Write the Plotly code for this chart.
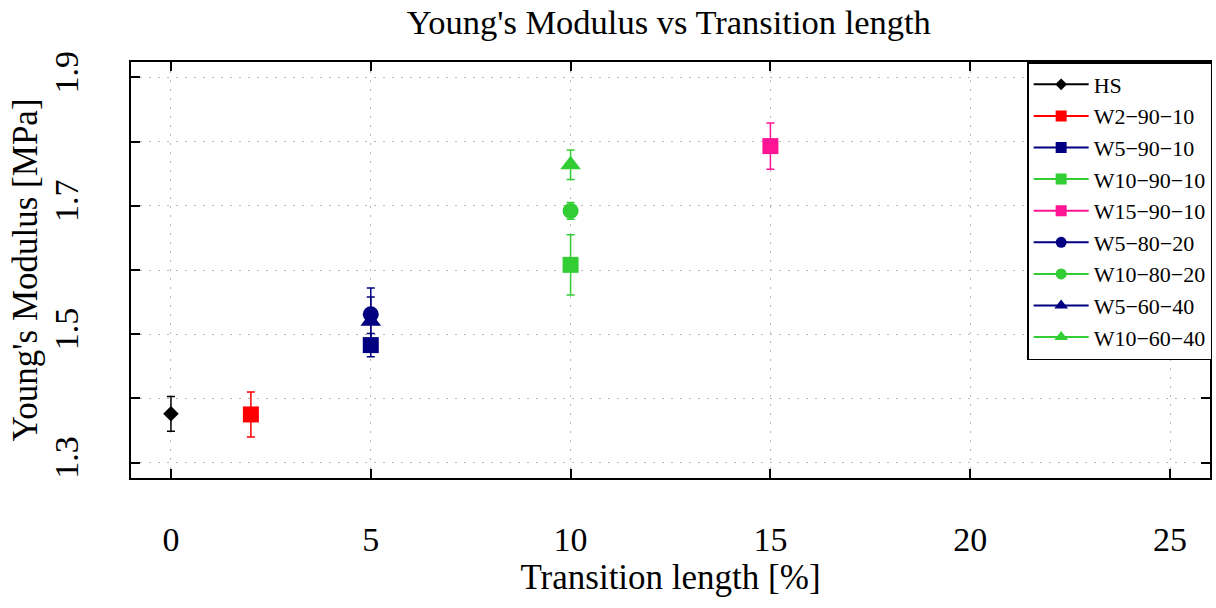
import plotly.graph_objects as go

# ---- data ----
names = ["HS", "W2−90−10", "W5−90−10", "W10−90−10", "W15−90−10",
         "W5−80−20", "W10−80−20", "W5−60−40", "W10−60−40"]
x_vals = [0, 2, 5, 10, 15, 5, 10, 5, 10]
y_vals = [1.376, 1.375, 1.483, 1.608, 1.793, 1.531, 1.692, 1.520, 1.764]
y_err = [0.027, 0.035, 0.018, 0.047, 0.036, 0.041, 0.013, 0.038, 0.023]

colors = ["#000000", "#ff0000", "#000080", "#32cd32", "#ff1493",
          "#000080", "#32cd32", "#000080", "#32cd32"]
symbols = ["diamond", "square", "square", "square", "square",
           "circle", "circle", "triangle-up", "triangle-up"]
sizes = [12, 16, 16, 16, 16, 16, 16, 18, 18]
legend_sizes = [9, 11, 11, 11, 11, 11, 11, 12, 12]

x_ticks = [0, 5, 10, 15, 20, 25]
y_ticks = [1.3, 1.4, 1.5, 1.6, 1.7, 1.8, 1.9]
y_tick_text = ["1.3", "", "1.5", "", "1.7", "", "1.9"]

fig = go.Figure()

for i in range(len(names)):
    fig.add_trace(go.Scatter(
        x=[x_vals[i]], y=[y_vals[i]], mode="markers",
        marker=dict(symbol=symbols[i], size=sizes[i], color=colors[i],
                    line=dict(width=0)),
        error_y=dict(type="data", array=[y_err[i]], color=colors[i],
                     thickness=1.5, width=4),
        showlegend=False, hoverinfo="skip"))

for i in range(len(names)):
    fig.add_trace(go.Scatter(
        x=[None], y=[None], mode="lines+markers", name=names[i],
        line=dict(color=colors[i], width=2),
        marker=dict(symbol=symbols[i], size=legend_sizes[i], color=colors[i],
                    line=dict(width=0))))

axis_common = dict(
    ticks="inside", ticklen=9, tickwidth=1.5, tickcolor="black",
    showline=True, linewidth=2, linecolor="black", mirror="allticks",
    showgrid=True, gridcolor="#b8b8b8", gridwidth=1.2, griddash="2px,7px",
    zeroline=False,
)

fig.update_layout(
    width=1216, height=608,
    margin=dict(l=131, r=4, t=62, b=130),
    paper_bgcolor="white", plot_bgcolor="white",
    font=dict(family="Liberation Serif", color="black"),
    title=dict(text="Young's Modulus vs Transition length",
               x=0.55, xanchor="center", y=0.964, yanchor="middle",
               font=dict(size=34.5)),
    xaxis=dict(range=[-1, 26], tickvals=x_ticks,
               tickfont=dict(size=34), ticklabelstandoff=30,
               title=dict(text="Transition length [%]", font=dict(size=35),
                          standoff=8),
               **axis_common),
    yaxis=dict(range=[1.276, 1.924], tickvals=y_ticks, ticktext=y_tick_text,
               tickangle=-90, tickfont=dict(size=34), ticklabelstandoff=37,
               title=dict(text="Young's Modulus [MPa]", font=dict(size=35),
                          standoff=0),
               **axis_common),
    legend=dict(x=1.002, xanchor="right", y=1, yanchor="top",
                bgcolor="white", bordercolor="black", borderwidth=1.5,
                font=dict(size=22), itemwidth=55),
)

fig.write_html("out.html")
